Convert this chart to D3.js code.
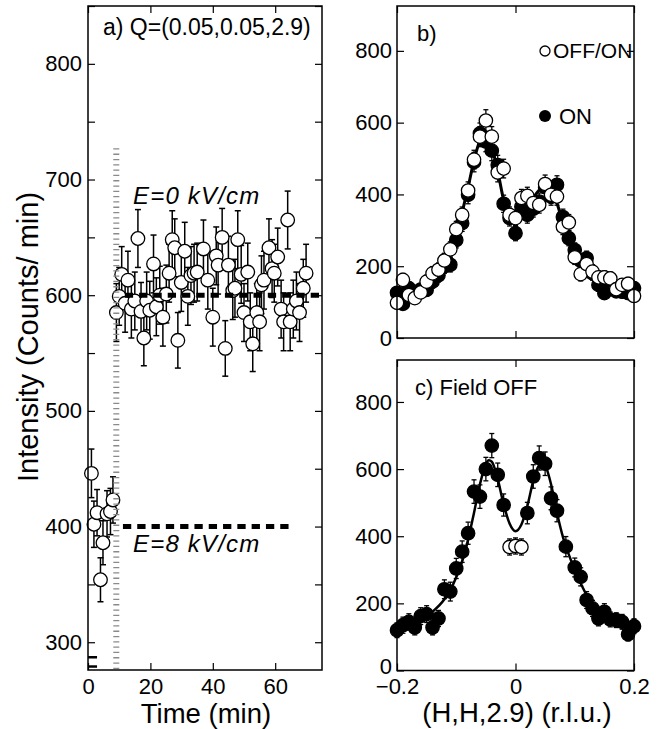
<!DOCTYPE html>
<html><head><meta charset="utf-8">
<script src="https://cdn.jsdelivr.net/npm/d3@7"></script>
<style>
body{margin:0;background:#fff}
svg{display:block}
text{font-family:"Liberation Sans",Arial,Helvetica,sans-serif;fill:#000}
.tick line{stroke:#000;stroke-width:1.2}
.tick text{font-size:22px}
</style>
</head><body>
<svg id="chart" width="663" height="729"></svg>
<script>
// ---------- Panel a data: time scan at Q=(0.05,0.05,2.9) ----------
const timeE8 = [1.1, 1.9, 2.9, 4.0, 4.8, 6.1, 7.2, 8.0];
const intE8  = [446, 402, 412, 354, 386, 411, 413, 423];
const errE8  = [21, 20, 20, 19, 19, 20, 20, 20];

const timeE0 = [9.1,10.0,10.8,11.9,12.8,13.9,15.0,16.0,17.0,17.9,18.8,19.8,21.0,21.9,23.0,24.0,25.1,26.0,27.0,27.8,
                28.8,29.9,31.0,32.0,33.0,34.0,35.0,37.0,38.4,40.0,41.1,41.7,43.0,44.0,45.0,46.4,47.1,48.0,49.1,50.0,
                51.2,52.0,52.8,54.1,55.0,55.6,56.4,58.0,59.0,59.7,60.8,61.9,62.7,64.0,64.8,65.8,66.8,67.8,69.0,69.9];
const intE0  = [585,599,618,593,613,588,595,649,586,563,595,587,627,590,600,581,601,619,648,641,
                561,611,638,599,617,619,620,640,613,581,634,626,650,554,626,604,606,648,618,585,
                620,577,558,585,577,609,613,641,623,619,633,588,577,665,577,588,595,585,606,619];
const errE0  = [25,25,24,25,25,25,25,25,25,24,25,25,25,25,25,25,25,25,25,25,
                24,25,25,25,25,25,25,25,25,25,25,25,25,24,25,25,25,25,25,25,
                25,25,24,25,25,25,25,25,25,25,25,25,25,25,25,25,25,25,25,25];

const levelE0 = 600, levelE0Range = [11.8, 75];
const levelE8 = 400, levelE8Range = [11.2, 65];
const fieldSwitchTime = 9.07, fieldSwitchTop = 727;
const breakMarks = [287, 279], breakRange = [0, 2.9];

const xTicksA = [0, 20, 40, 60];
const yTicksA = [300, 350, 400, 450, 500, 550, 600, 650, 700, 750, 800, 850];

// ---------- Panel b data: H scans, OFF/ON (open) and ON (filled) ----------
const hB = [-0.20,-0.19,-0.18,-0.17,-0.16,-0.15,-0.14,-0.13,-0.12,-0.11,-0.10,-0.09,-0.08,-0.07,-0.06,-0.05,-0.04,-0.03,-0.02,-0.01,
            0.00,0.01,0.02,0.03,0.04,0.05,0.06,0.07,0.08,0.09,0.10,0.11,0.12,0.13,0.14,0.15,0.16,0.17,0.18,0.19,0.20];
const offOnB = [98,162,120,111,127,157,180,190,216,247,303,343,411,497,561,606,561,461,472,343,
                334,390,396,376,371,429,399,394,310,322,225,178,206,185,169,169,166,136,148,151,117];
const errOffOnB = [16,18,17,16,17,18,19,19,20,21,22,22,24,26,28,30,28,26,26,22,
                   22,24,24,23,23,25,24,24,22,22,20,19,20,19,18,18,18,17,17,18,16];
const onB = [126,95,139,120,135,134,157,175,200,204,273,320,399,490,570,547,522,482,374,334,
             292,366,343,360,380,420,394,427,337,278,245,215,222,180,148,125,140,130,129,125,139];
const errOnB = [16,15,17,16,17,17,18,19,20,20,22,23,25,27,29,28,28,27,24,22,
                21,23,23,23,24,25,24,25,22,21,20,19,20,19,18,17,17,17,17,17,17];
const fitBx = [-0.20,-0.18,-0.16,-0.14,-0.12,-0.11,-0.10,-0.09,-0.08,-0.07,-0.06,-0.055,-0.05,-0.04,-0.03,-0.02,-0.01,
               0.00,0.01,0.02,0.03,0.04,0.05,0.06,0.07,0.08,0.09,0.10,0.11,0.12,0.14,0.16,0.18,0.20];
const fitBy = [110,122,138,162,200,230,285,350,420,495,550,562,558,530,465,385,345,
               335,345,365,390,412,420,405,375,320,270,235,212,195,168,150,138,128];

// ---------- Panel c data: Field OFF ----------
const hC = [-0.20,-0.19,-0.18,-0.17,-0.16,-0.15,-0.14,-0.13,-0.12,-0.11,-0.10,-0.09,-0.08,-0.07,-0.06,-0.05,-0.04,-0.03,-0.02,
            0.02,0.03,0.04,0.05,0.06,0.07,0.085,0.10,0.11,0.12,0.13,0.14,0.15,0.16,0.17,0.18,0.19,0.20];
const offC = [120,135,145,128,162,168,128,155,242,235,304,354,409,533,518,600,670,583,493,
              469,578,633,616,513,476,369,307,279,210,185,155,175,152,150,145,108,132];
const errC = [22,24,24,22,25,25,22,24,28,28,30,32,33,35,35,35,36,35,33,
              32,35,36,35,34,33,30,28,27,25,24,22,24,22,22,22,20,22];
const hCen = [-0.01, 0.00, 0.01];
const vCen = [368, 371, 368];
const errCen = [24, 24, 24];
const fitCx = [-0.20,-0.18,-0.16,-0.14,-0.12,-0.11,-0.10,-0.09,-0.08,-0.07,-0.06,-0.05,-0.045,-0.04,-0.03,-0.02,-0.01,
               0.00,0.01,0.02,0.03,0.04,0.045,0.05,0.06,0.07,0.08,0.09,0.10,0.11,0.12,0.14,0.16,0.18,0.20];
const fitCy = [118,132,150,175,212,240,278,325,390,470,555,615,626,622,570,495,438,
               415,435,490,565,612,620,612,555,470,398,345,300,260,225,180,156,140,128];

const xTicksBC = [-0.2, 0, 0.2];
const yTicksBC = [0, 200, 400, 600, 800];

// ---------- drawing ----------
const svg = d3.select("#chart");

function frame(g, x, y) {
  const [x0, x1] = x.range(), [y1, y0] = y.range();
  g.append("rect").attr("x", x0).attr("y", y0).attr("width", x1 - x0).attr("height", y1 - y0)
    .attr("fill", "none").attr("stroke", "#000").attr("stroke-width", 1.5);
}
function axes(g, x, y, xt, yt, xfmt, yfmt, xpad, ypad) {
  const [x0, x1] = x.range(), [y1, y0] = y.range();
  g.append("g").attr("transform", `translate(0,${y1})`)
    .call(d3.axisBottom(x).tickValues(xt).tickSize(-7).tickPadding(xpad).tickFormat(xfmt))
    .call(s => s.select(".domain").remove());
  g.append("g").attr("transform", `translate(0,${y0})`)
    .call(d3.axisTop(x).tickValues(xt).tickSize(-7).tickFormat(""))
    .call(s => s.select(".domain").remove());
  const yl = g.append("g").attr("transform", `translate(${x0},0)`)
    .call(d3.axisLeft(y).tickValues(yt).tickSize(-7).tickPadding(ypad).tickFormat(yfmt))
    .call(s => s.select(".domain").remove());
  g.append("g").attr("transform", `translate(${x1},0)`)
    .call(d3.axisRight(y).tickValues(yt).tickSize(-7).tickFormat(""))
    .call(s => s.select(".domain").remove());
  g.selectAll(".tick text").attr("font-family", null).attr("font-size", null);
  return yl;
}
function errorBars(g, x, y, xs, vs, es, cap, sw) {
  const d = xs.map((t, i) => ({t, v: vs[i], e: es[i]}));
  const eg = g.append("g").attr("stroke", "#000").attr("stroke-width", sw);
  eg.selectAll("line.v").data(d).join("line")
    .attr("x1", p => x(p.t)).attr("x2", p => x(p.t))
    .attr("y1", p => y(p.v - p.e)).attr("y2", p => y(p.v + p.e));
  eg.selectAll("line.t").data(d).join("line")
    .attr("x1", p => x(p.t) - cap).attr("x2", p => x(p.t) + cap)
    .attr("y1", p => y(p.v + p.e)).attr("y2", p => y(p.v + p.e));
  eg.selectAll("line.b").data(d).join("line")
    .attr("x1", p => x(p.t) - cap).attr("x2", p => x(p.t) + cap)
    .attr("y1", p => y(p.v - p.e)).attr("y2", p => y(p.v - p.e));
}
function dots(g, x, y, xs, vs, r, fill) {
  g.append("g").selectAll("circle").data(xs.map((t, i) => [t, vs[i]])).join("circle")
    .attr("cx", p => x(p[0])).attr("cy", p => y(p[1])).attr("r", r)
    .attr("fill", fill).attr("stroke", "#000").attr("stroke-width", 1.3);
}

// ---- Panel a ----
const xa = d3.scaleLinear().domain([0, 75]).range([88, 322]);
const ya = d3.scaleLinear().domain([276, 850]).range([670, 6]);
const ga = svg.append("g");
axes(ga, xa, ya, xTicksA, yTicksA, d3.format("d"), d => d % 100 === 0 ? d : "", 8, 6);

errorBars(ga, xa, ya, timeE8, intE8, errE8, 3, 1.5);
errorBars(ga, xa, ya, timeE0, intE0, errE0, 3, 1.5);
dots(ga, xa, ya, timeE8, intE8, 6.8, "#fff");
dots(ga, xa, ya, timeE0, intE0, 6.8, "#fff");

ga.append("line").attr("x1", xa(fieldSwitchTime)).attr("x2", xa(fieldSwitchTime))
  .attr("y1", ya(fieldSwitchTop)).attr("y2", ya(276))
  .attr("stroke", "#8a8a8a").attr("stroke-width", 6).attr("stroke-dasharray", "1.3,4");
ga.append("line").attr("x1", xa(levelE0Range[0])).attr("x2", xa(levelE0Range[1]))
  .attr("y1", ya(levelE0)).attr("y2", ya(levelE0))
  .attr("stroke", "#000").attr("stroke-width", 5).attr("stroke-dasharray", "8.3,6");
ga.append("line").attr("x1", xa(levelE8Range[0])).attr("x2", xa(levelE8Range[1]))
  .attr("y1", ya(levelE8)).attr("y2", ya(levelE8))
  .attr("stroke", "#000").attr("stroke-width", 5).attr("stroke-dasharray", "8.3,6");
breakMarks.forEach(v => ga.append("line").attr("x1", xa(breakRange[0])).attr("x2", xa(breakRange[1]))
  .attr("y1", ya(v)).attr("y2", ya(v)).attr("stroke", "#000").attr("stroke-width", 2.5));
frame(ga, xa, ya);

ga.append("text").attr("x", 103).attr("y", 35).attr("font-size", 23).text("a) Q=(0.05,0.05,2.9)");
ga.append("text").attr("x", 133).attr("y", 204).attr("font-size", 24).attr("font-style", "italic")
  .attr("letter-spacing", 1.2).text("E=0 kV/cm");
ga.append("text").attr("x", 133).attr("y", 552).attr("font-size", 24).attr("font-style", "italic")
  .attr("letter-spacing", 1.2).text("E=8 kV/cm");
ga.append("text").attr("x", 206).attr("y", 723).attr("font-size", 27.5).attr("text-anchor", "middle").text("Time (min)");
ga.append("text").attr("transform", "translate(38,337) rotate(-90)").attr("font-size", 29)
  .attr("text-anchor", "middle").text("Intensity (Counts/ min)");

// ---- Panel b ----
const xb = d3.scaleLinear().domain([-0.2, 0.2]).range([397, 634]);
const yb = d3.scaleLinear().domain([0, 925]).range([338, 6]);
const gb = svg.append("g");
axes(gb, xb, yb, xTicksBC, yTicksBC, () => "", d3.format("d"), 8, 5);
const lineB = d3.line().x((d, i) => xb(fitBx[i])).y(d => yb(d)).curve(d3.curveMonotoneX);
errorBars(gb, xb, yb, hB, onB, errOnB, 2.5, 1.3);
dots(gb, xb, yb, hB, onB, 6.7, "#000");
gb.append("path").attr("d", lineB(fitBy)).attr("fill", "none").attr("stroke", "#000").attr("stroke-width", 3);
errorBars(gb, xb, yb, hB, offOnB, errOffOnB, 2.5, 1.3);
dots(gb, xb, yb, hB, offOnB, 6.7, "#fff");
frame(gb, xb, yb);
gb.append("text").attr("x", 417).attr("y", 41).attr("font-size", 22).text("b)");
gb.append("circle").attr("cx", 545).attr("cy", 51).attr("r", 5).attr("fill", "#fff").attr("stroke", "#000").attr("stroke-width", 1.3);
gb.append("text").attr("x", 553).attr("y", 58).attr("font-size", 21).text("OFF/ON");
gb.append("circle").attr("cx", 545).attr("cy", 116).attr("r", 6).attr("fill", "#000");
gb.append("text").attr("x", 559).attr("y", 124).attr("font-size", 22).text("ON");

// ---- Panel c ----
const xc = d3.scaleLinear().domain([-0.2, 0.2]).range([397, 634]);
const yc = d3.scaleLinear().domain([0, 925]).range([670.5, 360]);
const gc = svg.append("g");
const ylc = axes(gc, xc, yc, xTicksBC, yTicksBC, d => d === 0 ? "0" : d3.format(".1f")(d), d3.format("d"), 8, 5);
ylc.selectAll(".tick").filter(d => d === 0).select("text").attr("dy", "0.12em");
const lineC = d3.line().x((d, i) => xc(fitCx[i])).y(d => yc(d)).curve(d3.curveMonotoneX);
errorBars(gc, xc, yc, hCen, vCen, errCen, 2.5, 1.3);
dots(gc, xc, yc, hCen, vCen, 6.7, "#fff");
errorBars(gc, xc, yc, hC, offC, errC, 2.5, 1.3);
dots(gc, xc, yc, hC, offC, 6.7, "#000");
gc.append("path").attr("d", lineC(fitCy)).attr("fill", "none").attr("stroke", "#000").attr("stroke-width", 2.5);
frame(gc, xc, yc);
gc.append("text").attr("x", 415).attr("y", 395).attr("font-size", 22).text("c) Field OFF");
gc.append("text").attr("x", 517).attr("y", 722).attr("font-size", 27.5).attr("text-anchor", "middle").text("(H,H,2.9) (r.l.u.)");
</script>
</body></html>
